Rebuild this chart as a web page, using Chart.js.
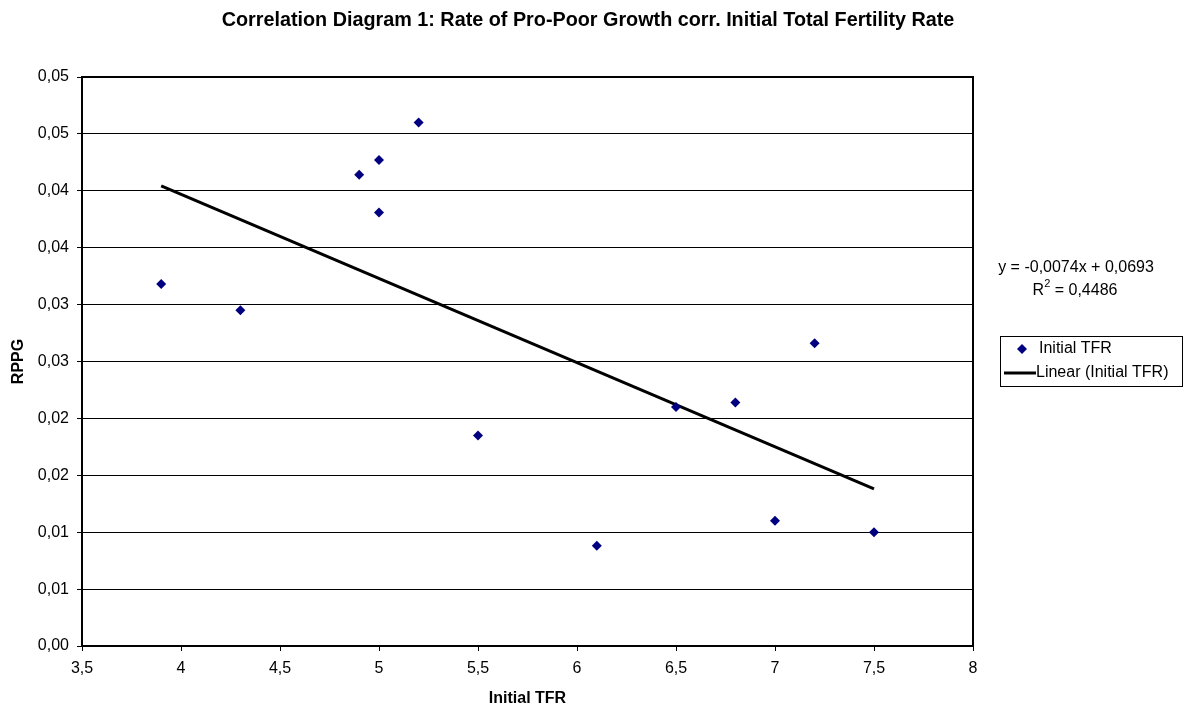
<!DOCTYPE html>
<html>
<head>
<meta charset="utf-8">
<script src="https://cdn.jsdelivr.net/npm/chart.js@4.4.1/dist/chart.umd.min.js"></script>
<style>
  html, body { margin: 0; padding: 0; background: #fff; }
  #contenedor { width: 1187px; height: 711px; }
</style>
</head>
<body>
<div id="contenedor"><canvas id="grafico-correlacion"></canvas></div>
<script>
const tfrInicial = [3.9, 4.3, 4.9, 5.0, 5.0, 5.2, 5.5, 6.1, 6.5, 6.8, 7.0, 7.2, 7.5];
const rppg = [0.0318, 0.0295, 0.0414, 0.0427, 0.0381, 0.0460, 0.0185, 0.0088, 0.0210, 0.0214, 0.0110, 0.0266, 0.0100];

// Recta de tendencia según la ecuación del gráfico
const pendiente = -0.0074;
const intercepto = 0.0693;
const textoEcuacion = 'y = -0,0074x + 0,0693';
const textoR2 = ' = 0,4486';

// Etiquetas de los ejes (formato con coma decimal)
const etiquetasX = ['3,5', '4', '4,5', '5', '5,5', '6', '6,5', '7', '7,5', '8'];
const etiquetasY = ['0,00', '0,01', '0,01', '0,02', '0,02', '0,03', '0,03', '0,04', '0,04', '0,05', '0,05'];

const titulo = 'Correlation Diagram 1: Rate of Pro-Poor Growth corr. Initial Total Fertility Rate';

const fuente = '"Liberation Sans", Arial, sans-serif';
Chart.defaults.font.family = fuente;
Chart.defaults.font.size = 16;
Chart.defaults.color = '#000';

const puntos = tfrInicial.map((x, i) => ({ x: x, y: rppg[i] }));
const xMin = Math.min(...tfrInicial);
const xMax = Math.max(...tfrInicial);
const tendencia = [xMin, xMax].map(x => ({ x: x, y: pendiente * x + intercepto }));

// Título, marco, ecuación y leyenda dibujados a mano (como en Excel)
const extras = {
    id: 'extras',
    afterDraw(chart) {
        const ctx = chart.ctx;
        const a = chart.chartArea;
        ctx.save();
        // título centrado en todo el lienzo
        ctx.fillStyle = '#000';
        ctx.font = 'bold 19.8px ' + fuente;
        ctx.textAlign = 'center';
        ctx.textBaseline = 'alphabetic';
        ctx.fillText(titulo, 588, 26);

        // marco del área de trazado (arriba y derecha)
        ctx.strokeStyle = '#000';
        ctx.lineWidth = 2;
        ctx.beginPath();
        ctx.moveTo(a.left, a.top);
        ctx.lineTo(a.right, a.top);
        ctx.lineTo(a.right, a.bottom);
        ctx.stroke();

        // ecuación de la recta
        ctx.font = '16px ' + fuente;
        ctx.textAlign = 'center';
        ctx.fillText(textoEcuacion, 1076, 272);
        // R² con superíndice
        ctx.textAlign = 'left';
        const wR = ctx.measureText('R').width;
        const wResto = ctx.measureText(textoR2).width;
        ctx.font = '11px ' + fuente;
        const w2 = ctx.measureText('2').width;
        const x0 = 1075 - (wR + w2 + wResto) / 2;
        ctx.font = '16px ' + fuente;
        ctx.fillText('R', x0, 295);
        ctx.font = '11px ' + fuente;
        ctx.fillText('2', x0 + wR, 287);
        ctx.font = '16px ' + fuente;
        ctx.fillText(textoR2, x0 + wR + w2, 295);

        // leyenda
        ctx.lineWidth = 1;
        ctx.strokeRect(1000.5, 336.5, 182, 50);
        const ds = chart.data.datasets;
        ctx.fillStyle = '#000080';
        ctx.beginPath();
        ctx.moveTo(1022, 344);
        ctx.lineTo(1027, 349);
        ctx.lineTo(1022, 354);
        ctx.lineTo(1017, 349);
        ctx.closePath();
        ctx.fill();
        ctx.lineWidth = 3;
        ctx.beginPath();
        ctx.moveTo(1004, 373);
        ctx.lineTo(1036, 373);
        ctx.stroke();
        ctx.fillStyle = '#000';
        ctx.textBaseline = 'middle';
        ctx.fillText(ds[0].label, 1039, 349);
        ctx.fillText(ds[1].label, 1036, 373);
        ctx.restore();
    }
};

new Chart(document.getElementById('grafico-correlacion'), {
    type: 'scatter',
    data: {
        datasets: [{
            label: 'Initial TFR',
            data: puntos,
            pointStyle: 'rectRot',
            pointRadius: 5,
            pointHoverRadius: 5,
            backgroundColor: '#000080',
            borderColor: '#000080',
            borderWidth: 0
        }, {
            label: 'Linear (Initial TFR)',
            data: tendencia,
            showLine: true,
            pointRadius: 0,
            borderColor: '#000',
            borderWidth: 3
        }]
    },
    options: {
        responsive: true,
        maintainAspectRatio: false,
        animation: false,
        layout: { padding: { left: 0, top: 77, right: 214, bottom: 0 } },
        plugins: {
            legend: { display: false },
            tooltip: { enabled: false },
            title: { display: false }
        },
        scales: {
            x: {
                type: 'linear',
                min: 3.5,
                max: 8,
                afterFit: s => { s.height = 65; },
                ticks: {
                    stepSize: 0.5,
                    padding: 8,
                    maxRotation: 0,
                    callback: (v, i) => etiquetasX[i]
                },
                grid: { drawOnChartArea: false, drawTicks: true, tickLength: 5, color: '#000' },
                border: { display: true, color: '#000', width: 2 },
                title: {
                    display: true,
                    text: 'Initial TFR',
                    font: { size: 16, weight: 'bold' },
                    padding: { top: 0, bottom: 3 }
                }
            },
            y: {
                min: 0,
                max: 0.05,
                afterFit: s => { s.width = 82; },
                ticks: {
                    stepSize: 0.005,
                    padding: 8,
                    callback: (v, i) => etiquetasY[i]
                },
                grid: { color: '#000', lineWidth: 1, drawTicks: true, tickLength: 5 },
                border: { display: true, color: '#000', width: 2 },
                title: {
                    display: true,
                    text: 'RPPG',
                    font: { size: 16, weight: 'bold' },
                    padding: { top: 9, bottom: 0 }
                }
            }
        }
    },
    plugins: [extras]
});
</script>
</body>
</html>
